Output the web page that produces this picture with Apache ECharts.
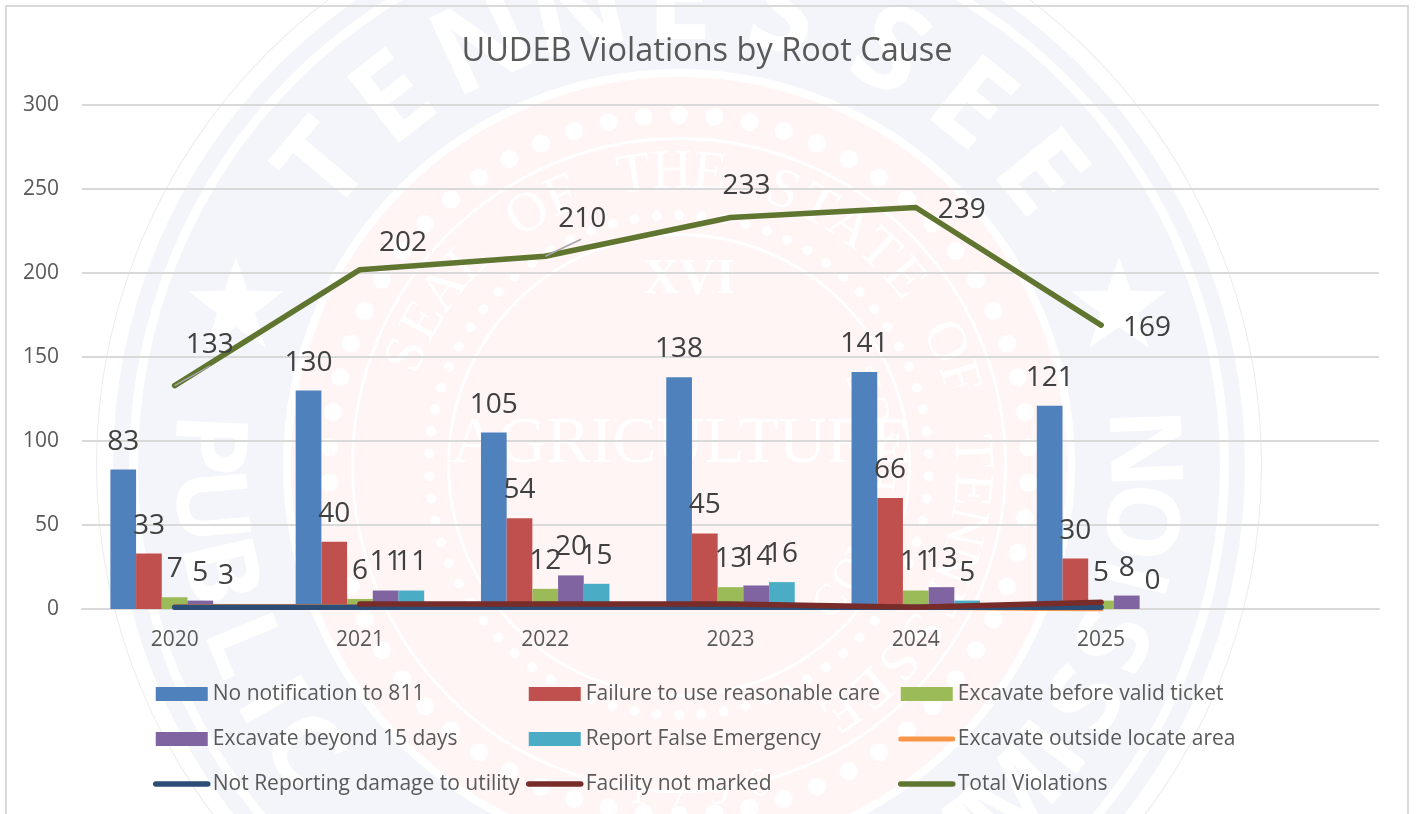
<!DOCTYPE html>
<html>
<head>
<meta charset="utf-8">
<title>UUDEB Violations by Root Cause</title>
<script src="https://cdn.jsdelivr.net/npm/echarts@6/dist/echarts.min.js"></script>
<style>
  html, body { margin: 0; padding: 0; background: #fff; }
  #chart { width: 1416px; height: 814px; }
</style>
</head>
<body>
<div id="chart"></div>
<script>
var chartTitle = 'UUDEB Violations by Root Cause'
var years = ['2020', '2021', '2022', '2023', '2024', '2025', '']

var noNotification = [83, 130, 105, 138, 141, 121, null]
var reasonableCare = [33, 40, 54, 45, 66, 30, null]
var beforeTicket = [7, 6, 12, 13, 11, 5, null]
var beyond15Days = [5, 11, 20, 14, 13, 8, null]
var falseEmergency = [3, 11, 15, 16, 5, 0, null]
var outsideLocate = [1.5, 1.5, 1, 2, 1, 0, null]
var notReporting = [1, 1, 1, 1, 1, 1, null]
var notMarked = [null, 3, 3, 3, 1, 4, null]
var totalViolations = [133, 202, 210, 233, 239, 169, null]

// hand placed in the original, dx / dy from the point
var totalLabelOffsets = [[35, -24], [43, -10], [37, -21], [16, -15], [46, 19], [46, 19]]
// grey leader lines, end of the line as dx / dy from the point
var totalLeaderEnds = [[36, -20], null, [36, -17], null, null, null]

var inkColor = '#404040'
var axisInk = '#595959'
var gridColor = '#d9d9d9'
var uiFont = '"Open Sans", "Noto Sans", sans-serif'
var seriFont = '"Liberation Serif", serif'

// --- watermark behind the chart (state seal) ---
var sealX = 679
var sealY = 465
var paleBlue = '#f4f5fa'
var palePink = '#fef5f4'

var watermark = []

function ring (r, r0, fill) {
  watermark.push({
    type: 'ring',
    silent: true,
    z: -20,
    shape: { cx: sealX, cy: sealY, r: r, r0: r0 },
    style: { fill: fill }
  })
}

function arcLetter (ch, deg, radius, size, weight, family, flip) {
  var rad = deg * Math.PI / 180
  var y = sealY - radius * Math.cos(rad)
  if (y > 880) return
  watermark.push({
    type: 'text',
    silent: true,
    z: -15,
    x: sealX + radius * Math.sin(rad),
    y: y,
    rotation: -rad + (flip ? Math.PI : 0),
    style: {
      text: ch,
      fill: '#fff',
      font: weight + ' ' + size + 'px ' + family,
      align: 'center',
      verticalAlign: 'middle'
    }
  })
}

function star (cx, cy, outer) {
  var pts = []
  for (var i = 0; i < 10; i++) {
    var a = i * Math.PI / 5
    var r = i % 2 ? outer * 0.4 : outer
    pts.push([cx + r * Math.sin(a), cy - r * Math.cos(a)])
  }
  watermark.push({
    type: 'polygon',
    silent: true,
    z: -15,
    shape: { points: pts },
    style: { fill: '#fff' }
  })
}

function dotRing (radius, count, size) {
  for (var i = 0; i < count; i++) {
    var a = i * 2 * Math.PI / count
    watermark.push({
      type: 'circle',
      silent: true,
      z: -15,
      shape: { cx: sealX + radius * Math.sin(a), cy: sealY - radius * Math.cos(a), r: size },
      style: { fill: '#fff' }
    })
  }
}

ring(583, 582, '#ececec')
ring(566, 0, paleBlue)
ring(550, 541, '#fff')
ring(396, 0, '#fff')
ring(388, 0, palePink)
ring(328, 325, '#fff')
ring(232, 229, '#fff')
dotRing(350, 62, 9)
dotRing(250, 70, 5)

var topWord = 'TENNESSEE'
var topAngles = [-50, -38, -25, -12.5, 0, 13, 27, 39, 51]
topWord.split('').forEach(function (ch, i) {
  arcLetter(ch, topAngles[i], 460, 118, 'bold', uiFont, false)
})
var leftWord = 'PUBLIC'
var leftAngles = [-87.5, -95, -103, -112.5, -120, -127]
leftWord.split('').forEach(function (ch, i) {
  arcLetter(ch, leftAngles[i], 475, 100, 'bold', uiFont, true)
})
var rightWord = 'COMMISSION'
var rightAngles = [163, 155, 145, 135, 127, 120, 112, 104, 97, 88]
rightWord.split('').forEach(function (ch, i) {
  arcLetter(ch, rightAngles[i], 475, 100, 'bold', uiFont, true)
})
star(236, 307, 50)
star(1119, 307, 50)

'SEAL OF THE STATE OF TENNESSEE'.split('').forEach(function (ch, i) {
  arcLetter(ch, -68 + i * 7.4, 292, 56, 'normal', seriFont, false)
})
'COMMERCE'.split('').forEach(function (ch, i) {
  arcLetter(ch, 142 - i * 9.5 - 10, 205, 44, 'normal', seriFont, true)
})
'1796'.split('').forEach(function (ch, i) {
  arcLetter(ch, 187 - i * 7, 330, 40, 'normal', seriFont, true)
})
watermark.push({
  type: 'text',
  silent: true,
  z: -15,
  x: sealX + 2,
  y: 445,
  style: { text: 'AGRICULTURE', fill: '#fff', font: '66px ' + seriFont, align: 'center', verticalAlign: 'middle' }
})
watermark.push({
  type: 'text',
  silent: true,
  z: -15,
  x: sealX + 10,
  y: 280,
  style: { text: 'XVI', fill: '#fff', font: 'bold 50px ' + seriFont, align: 'center', verticalAlign: 'middle' }
})

// chart frame, open at the bottom of the crop
watermark.push({
  type: 'rect',
  silent: true,
  z: -10,
  shape: { x: 6, y: 6, width: 1402, height: 840 },
  style: { fill: 'transparent', stroke: gridColor, lineWidth: 2 }
})

function barSeries (name, values, color) {
  return {
    name: name,
    type: 'bar',
    data: values,
    barWidth: 25.7,
    barGap: 0,
    itemStyle: { color: color },
    label: {
      show: true,
      position: 'top',
      distance: 14,
      color: inkColor,
      fontFamily: uiFont,
      fontSize: 28,
      lineHeight: 28
    }
  }
}

function lineSeries (name, values, color, width) {
  return {
    name: name,
    type: 'line',
    data: values,
    symbol: 'none',
    itemStyle: { color: color },
    lineStyle: { color: color, width: width, cap: 'round', join: 'round' }
  }
}

var totalSeries = lineSeries('Total Violations', totalViolations, '#5f7530', 5.5)
totalSeries.symbol = 'circle'
totalSeries.symbolSize = 5
totalSeries.label = {
  show: true,
  position: 'top',
  distance: 0,
  color: inkColor,
  fontFamily: uiFont,
  fontSize: 28,
  lineHeight: 28
}
totalSeries.labelLayout = function (params) {
  var off = totalLabelOffsets[params.dataIndex] || [0, 0]
  return { dx: off[0], dy: off[1] }
}

var lineNames = ['Excavate outside locate area', 'Not Reporting damage to utility', 'Facility not marked', 'Total Violations']

function legendColumn (left, names) {
  return {
    orient: 'vertical',
    left: left,
    top: 682,
    padding: 0,
    itemWidth: 52,
    itemHeight: 14,
    itemGap: 21,
    selectedMode: false,
    data: names.map(function (n) {
      if (lineNames.indexOf(n) >= 0) {
        // only the stroke, the marker circle is hidden
        return { name: n, itemStyle: { opacity: 0 }, lineStyle: { width: 'inherit', cap: 'round' } }
      }
      return { name: n, icon: 'rect' }
    }),
    textStyle: { color: axisInk, fontFamily: uiFont, fontSize: 21, lineHeight: 24 }
  }
}

var options = {
  animation: false,
  backgroundColor: '#fff',
  graphic: { elements: watermark },
  title: {
    text: chartTitle,
    left: 702,
    top: 30,
    textAlign: 'center',
    textStyle: { color: axisInk, fontFamily: uiFont, fontSize: 32.5, fontWeight: 'normal' }
  },
  grid: { left: 82, right: 37, top: 105, bottom: 205, containLabel: false },
  legend: [
    legendColumn(153, ['No notification to 811', 'Excavate beyond 15 days', 'Not Reporting damage to utility']),
    legendColumn(526, ['Failure to use reasonable care', 'Report False Emergency', 'Facility not marked']),
    legendColumn(898, ['Excavate before valid ticket', 'Excavate outside locate area', 'Total Violations'])
  ],
  xAxis: {
    type: 'category',
    data: years,
    axisTick: { show: false },
    axisLine: { lineStyle: { color: gridColor, width: 2 } },
    axisLabel: { color: axisInk, fontFamily: uiFont, fontSize: 21, margin: 21 }
  },
  yAxis: {
    type: 'value',
    min: 0,
    max: 300,
    interval: 50,
    axisLine: { show: false },
    axisTick: { show: false },
    splitLine: { lineStyle: { color: gridColor, width: 2 } },
    axisLabel: { color: axisInk, fontFamily: uiFont, fontSize: 21, margin: 23 }
  },
  series: [
    barSeries('No notification to 811', noNotification, '#4f81bd'),
    barSeries('Failure to use reasonable care', reasonableCare, '#c0504d'),
    barSeries('Excavate before valid ticket', beforeTicket, '#9bbb59'),
    barSeries('Excavate beyond 15 days', beyond15Days, '#8064a2'),
    barSeries('Report False Emergency', falseEmergency, '#4bacc6'),
    lineSeries('Excavate outside locate area', outsideLocate, '#f79646', 5),
    lineSeries('Not Reporting damage to utility', notReporting, '#2c4d75', 5.5),
    lineSeries('Facility not marked', notMarked, '#772c2a', 5.5),
    totalSeries
  ]
}

var echartsInstance = echarts.init(document.getElementById('chart'))
echartsInstance.setOption(options)

// leader lines need the pixel position of the total points
totalLeaderEnds.forEach(function (end, i) {
  if (!end) return
  var p = echartsInstance.convertToPixel({ seriesIndex: 8 }, [i, totalViolations[i]])
  watermark.push({
    type: 'line',
    silent: true,
    z: 60,
    shape: { x1: p[0], y1: p[1], x2: p[0] + end[0], y2: p[1] + end[1] },
    style: { stroke: '#a6a6a6', lineWidth: 1.5 }
  })
})
echartsInstance.setOption({ graphic: { elements: watermark } })
</script>
</body>
</html>
